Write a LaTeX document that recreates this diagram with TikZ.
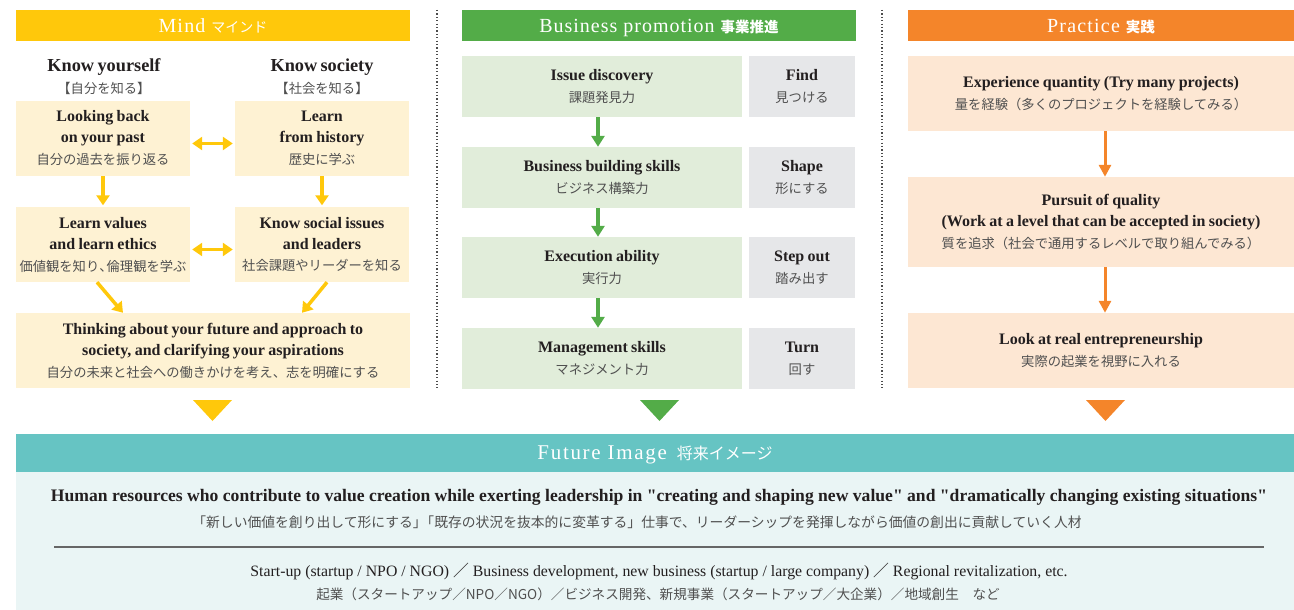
\documentclass[tikz,border=0pt]{standalone}
\usepackage{fontspec}
\setmainfont{Liberation Serif}[Ligatures=TeXOff]
\newfontfamily\jp{Noto Sans CJK JP}
\usetikzlibrary{arrows.meta}
\definecolor{mindY}{HTML}{FFC80B}
\definecolor{mindL}{HTML}{FEF2D3}
\definecolor{busG}{HTML}{53AC48}
\definecolor{busL}{HTML}{E1EDDA}
\definecolor{busGr}{HTML}{E6E7E9}
\definecolor{prO}{HTML}{F4852A}
\definecolor{prL}{HTML}{FDE7D3}
\definecolor{futT}{HTML}{66C4C3}
\definecolor{futL}{HTML}{EAF5F5}
\definecolor{txt}{HTML}{231F20}
\definecolor{jpg}{HTML}{505050}
\newcommand{\en}[1]{{\fontsize{16}{21}\selectfont\bfseries\color{txt}#1\par}}
\newcommand{\jt}[1]{{\jp\fontsize{13.3}{22}\selectfont\color{jpg}#1\par}}
\newcommand{\hw}[1]{\makebox[0.55em][l]{#1}}
\begin{document}
\begin{tikzpicture}[x=1pt,y=-1pt,
  hdr/.style={inner sep=0pt,minimum height=31pt,text height=17pt,text depth=2pt,text=white},
  bx/.style={inner sep=0pt,align=center},
  yarr/.style={draw=mindY,line width=3.5pt,-{Triangle[length=10pt,width=13pt]}},
  ydbl/.style={draw=mindY,line width=3.5pt,{Triangle[length=10pt,width=13pt]}-{Triangle[length=10pt,width=13pt]}},
  garr/.style={draw=busG,line width=3.5pt,-{Triangle[length=11pt,width=13pt]}},
  oarr/.style={draw=prO,line width=3pt,-{Triangle[length=12pt,width=12pt]}},
  sep/.style={draw=black!70,line width=1.2pt,dash pattern=on 1.2pt off 2.2pt}]
\useasboundingbox (0,0) rectangle (1294,610);
% headers
\node[hdr,fill=mindY,minimum width=394pt] (hm) at (213,25.5) {{\fontsize{20}{20}\selectfont\addfontfeature{LetterSpace=6}Mind}\hspace{6pt}{\jp\fontsize{14}{14}\selectfont マインド}};
\node[hdr,fill=busG,minimum width=394pt] (hb) at (659,25.5) {{\fontsize{20}{20}\selectfont\addfontfeature{LetterSpace=5}Business promotion}\hspace{6pt}{\jp\bfseries\fontsize{14.5}{14.5}\selectfont 事業推進}};
\node[hdr,fill=prO,minimum width=386pt] (hp) at (1101,25.5) {{\fontsize{20}{20}\selectfont\addfontfeature{LetterSpace=6}Practice}\hspace{6pt}{\jp\bfseries\fontsize{14.5}{14.5}\selectfont 実践}};
% separators
\draw[sep] (437,10) -- (437,388);
\draw[sep] (882,10) -- (882,388);
% Mind column
\node[bx,text width=200pt] (ky) at (104,77) {{\fontsize{18.3}{20}\selectfont\bfseries\color{txt}Know yourself\par}\jt{【自分を知る】}};
\node[bx,text width=200pt] (ks0) at (322,77) {{\fontsize{18.3}{20}\selectfont\bfseries\color{txt}Know society\par}\jt{【社会を知る】}};
\node[bx,fill=mindL,minimum width=174pt,minimum height=75pt,text width=172pt] (lb) at (103,138.5) {\en{Looking back\\on your past}\jt{自分の過去を振り返る}};
\node[bx,fill=mindL,minimum width=174pt,minimum height=75pt,text width=172pt] (lh) at (322,138.5) {\en{Learn\\from history}\jt{歴史に学ぶ}};
\node[bx,fill=mindL,minimum width=174pt,minimum height=75pt,text width=172pt] (lv) at (103,244.5) {\en{Learn values\\and learn ethics}\jt{価値観を知り\hw{、}倫理観を学ぶ}};
\node[bx,fill=mindL,minimum width=174pt,minimum height=75pt,text width=172pt] (si) at (322,244.5) {\en{Know social issues\\and leaders}\jt{社会課題やリーダーを知る}};
\node[bx,fill=mindL,minimum width=394pt,minimum height=75pt,text width=390pt] (tf) at (213,350.5) {\en{Thinking about your future and approach to\\society, and clarifying your aspirations}\jt{自分の未来と社会への働きかけを考え、志を明確にする}};
\draw[yarr,shorten >=1.5pt] (lb.south) -- (lv.north);
\draw[yarr,shorten >=1.5pt] (lh.south) -- (si.north);
\draw[ydbl,shorten <=2pt,shorten >=2pt] ([yshift=-5pt]lb.east) -- ([yshift=-5pt]lh.west);
\draw[ydbl,shorten <=2pt,shorten >=2pt] ([yshift=-5pt]lv.east) -- ([yshift=-5pt]si.west);
\draw[yarr] ([xshift=-6pt]lv.south) -- ([xshift=-90pt]tf.north);
\draw[yarr] ([xshift=5pt]si.south) -- ([xshift=89pt]tf.north);
\fill[mindY] (193,400) -- (232,400) -- (212.5,421) -- cycle;
% Business column
\foreach \n/\y/\a/\b/\c/\d in {b1/86.5/Issue discovery/課題発見力/Find/見つける,
  b2/177.5/Business building skills/ビジネス構築力/Shape/形にする,
  b3/267.5/Execution ability/実行力/Step out/踏み出す,
  b4/358.5/Management skills/マネジメント力/Turn/回す}{
  \node[bx,fill=busL,minimum width=280pt,minimum height=61pt,text width=276pt] (\n) at (602,\y) {\en{\a}\jt{\b}};
  \node[bx,fill=busGr,minimum width=106pt,minimum height=61pt,text width=104pt] (\n g) at (802,\y) {\en{\c}\jt{\d}};
}
\draw[garr] ([xshift=-4pt]b1.south) -- ([xshift=-4pt]b2.north);
\draw[garr] ([xshift=-4pt]b2.south) -- ([xshift=-4pt]b3.north);
\draw[garr] ([xshift=-4pt]b3.south) -- ([xshift=-4pt]b4.north);
\fill[busG] (640,400) -- (679,400) -- (659.5,421) -- cycle;
% Practice column
\node[bx,fill=prL,minimum width=386pt,minimum height=75pt,text width=380pt] (p1) at (1101,93.5) {\en{Experience quantity (Try many projects)}\jt{量を経験（多くのプロジェクトを経験してみる）}};
\node[bx,fill=prL,minimum width=386pt,minimum height=90pt,text width=380pt] (p2) at (1101,222) {\en{Pursuit of quality\\(Work at a level that can be accepted in society)}\jt{質を追求（社会で通用するレベルで取り組んでみる）}};
\node[bx,fill=prL,minimum width=386pt,minimum height=75pt,text width=380pt] (p3) at (1101,350.5) {\en{Look at real entrepreneurship}\jt{実際の起業を視野に入れる}};
\draw[oarr] ([xshift=4pt]p1.south) -- ([xshift=4pt]p2.north);
\draw[oarr] ([xshift=4pt]p2.south) -- ([xshift=4pt]p3.north);
\fill[prO] (1086,400) -- (1125,400) -- (1105.5,421) -- cycle;
% Future image
\node[inner sep=0pt,fill=futT,minimum width=1278pt,minimum height=38pt,text height=15pt,text depth=3pt,text=white] (fh) at (655,453) {{\fontsize{21}{21}\selectfont\addfontfeature{LetterSpace=8}Future Image}\quad{\jp\fontsize{16}{16}\selectfont 将来イメージ}};
\node[inner sep=0pt,fill=futL,minimum width=1278pt,minimum height=138pt] (fb) at (655,541) {};
\node[inner sep=0pt,text=txt] (t1) at (659,497.5) {\fontsize{17.6}{19}\selectfont\bfseries Human resources who contribute to value creation while exerting leadership in "creating and shaping new value" and "dramatically changing existing situations"};
\node[inner sep=0pt,text=jpg] (t2) at (637,522) {\jp\fontsize{13.8}{15}\selectfont 「新しい価値を創り出して形にする\hw{」}「既存の状況を抜本的に変革する」仕事で、リーダーシップを発揮しながら価値の創出に貢献していく人材};
\draw[black!60,line width=1.2pt] (54,547) -- (1264,547);
\node[inner sep=0pt,text=txt] (t3) at (659,572) {\fontsize{15.8}{17}\selectfont Start-up (startup / NPO / NGO) {\jp ／} Business development, new business (startup / large company) {\jp ／} Regional revitalization, etc.};
\node[inner sep=0pt,text=jpg] (t4) at (658,594) {\jp\fontsize{13.6}{15}\selectfont 起業（スタートアップ／NPO／NGO）／ビジネス開発、新規事業（スタートアップ／大企業）／地域創生　など};
\end{tikzpicture}
\end{document}
